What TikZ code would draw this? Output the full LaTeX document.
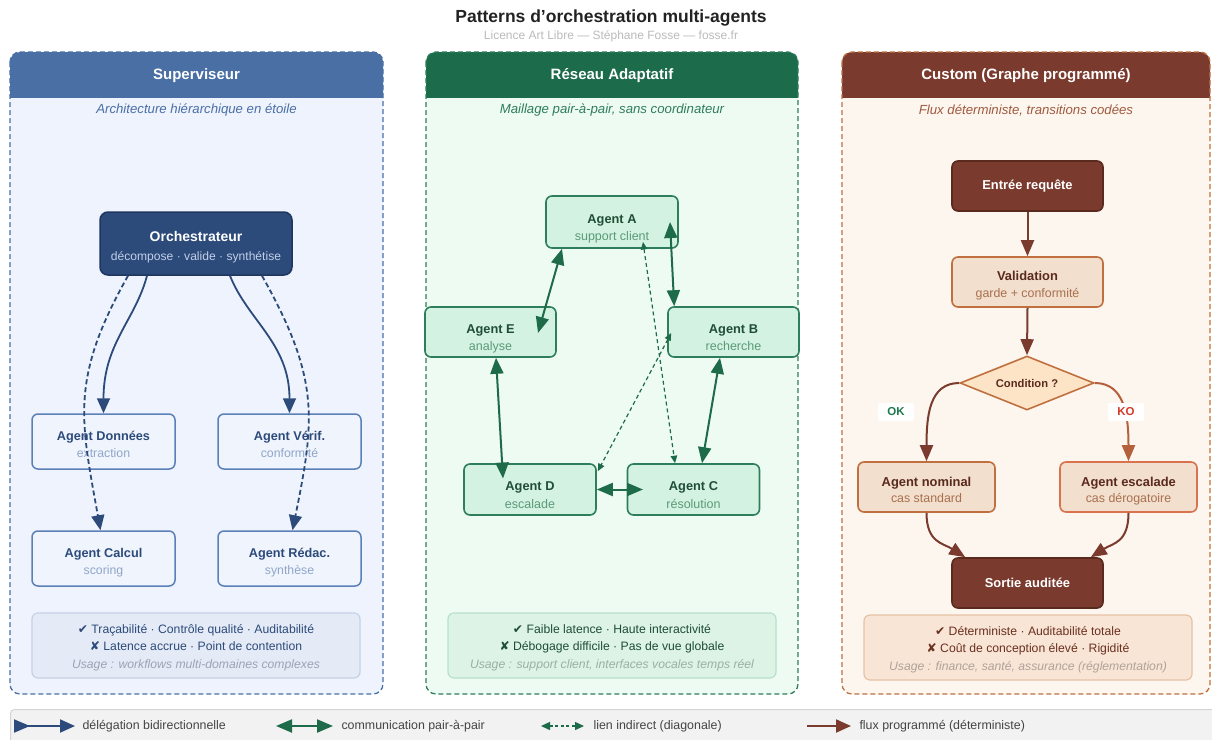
\documentclass[tikz,border=0pt]{standalone}
\usepackage{fontspec}
\setmainfont{Liberation Sans}
\newfontfamily\symf{DejaVu Sans}
\usetikzlibrary{arrows.meta,shapes.geometric,calc}
\newcommand\tstr[1]{\rule{0pt}{#1}}
\newcommand\bstr{\rule[-4pt]{0pt}{4pt}}
\definecolor{titlec}{HTML}{222222}
\definecolor{lic}{HTML}{BBBBBB}
% blue
\definecolor{bhead}{HTML}{4A6FA5}
\definecolor{bbg}{HTML}{EEF3FD}
\definecolor{navy}{HTML}{2C4A7A}
\definecolor{navyd}{HTML}{1F3760}
\definecolor{bborder}{HTML}{5B80B8}
\definecolor{bnodefill}{HTML}{F0F4FD}
\definecolor{bsub}{HTML}{8FA6C8}
\definecolor{bsubt}{HTML}{4A6FA5}
\definecolor{orchsub}{HTML}{C2D0E8}
\definecolor{bfoot}{HTML}{E5EBF6}
\definecolor{bfootb}{HTML}{C5D1E6}
\definecolor{busage}{HTML}{9AA3B5}
% green
\definecolor{ghead}{HTML}{1C6B4A}
\definecolor{gbg}{HTML}{EEFBF2}
\definecolor{gnodefill}{HTML}{D4F2E2}
\definecolor{gborder}{HTML}{2E7D5B}
\definecolor{gtitle}{HTML}{1F4D36}
\definecolor{gsub}{HTML}{5A9A78}
\definecolor{garrow}{HTML}{1E6B4A}
\definecolor{gsubt}{HTML}{2E7D5B}
\definecolor{gfoot}{HTML}{DCF3E6}
\definecolor{gfootb}{HTML}{B9E0CB}
\definecolor{gusage}{HTML}{9AB0A3}
% brown
\definecolor{chead}{HTML}{7A3A2E}
\definecolor{cbg}{HTML}{FDF6EF}
\definecolor{cdarkb}{HTML}{5A2A1E}
\definecolor{cnodefill}{HTML}{F2DFCD}
\definecolor{cborder}{HTML}{C0703F}
\definecolor{escb}{HTML}{D9734F}
\definecolor{cdiamf}{HTML}{FDE4C6}
\definecolor{ctitle}{HTML}{5A2A1E}
\definecolor{csub}{HTML}{A8704F}
\definecolor{csubt}{HTML}{A05A3E}
\definecolor{karrow}{HTML}{B5603C}
\definecolor{cfoot}{HTML}{F8E5D5}
\definecolor{cfootb}{HTML}{E5C2A5}
\definecolor{cusage}{HTML}{B0A29A}
\definecolor{cftext}{HTML}{6A3020}
\definecolor{okc}{HTML}{1E7A4F}
\definecolor{koc}{HTML}{D43A2A}
% legend
\definecolor{legbg}{HTML}{F2F2F2}
\definecolor{legb}{HTML}{D5D5D5}
\definecolor{legt}{HTML}{444444}
\begin{document}
\begin{tikzpicture}[x=1pt,y=-1pt,
  hdr/.style={font=\fontsize{15}{18}\selectfont\bfseries, text=white},
  psub/.style={font=\fontsize{13.2}{16}\selectfont\itshape},
  bnode/.style={draw=bborder, fill=bnodefill, line width=1.5, rounded corners=6,
     minimum width=143, minimum height=55, align=center, inner sep=0,
     font=\fontsize{12.3}{16.2}\selectfont},
  orchnode/.style={draw=navyd, fill=navy, line width=1.5, rounded corners=8,
     minimum width=192, minimum height=63, align=center, inner sep=0,
     font=\fontsize{12.1}{19.5}\selectfont},
  gnode/.style={draw=gborder, fill=gnodefill, line width=1.6, rounded corners=6,
     minimum width=132, minimum height=51, align=center, inner sep=0,
     font=\fontsize{12.5}{17.6}\selectfont},
  cnode/.style={draw=cborder, fill=cnodefill, line width=1.6, rounded corners=6,
     minimum width=151, minimum height=50, align=center, inner sep=0,
     font=\fontsize{12.4}{17.6}\selectfont},
  cdark/.style={draw=cdarkb, fill=chead, line width=1.6, rounded corners=6,
     minimum width=151, minimum height=50, align=center, inner sep=0,
     font=\fontsize{12.9}{15}\selectfont\bfseries, text=white},
  cdiam/.style={diamond, draw=cborder, fill=cdiamf, line width=1.6, aspect=2.48,
     minimum width=134, minimum height=54, inner sep=1pt,
     font=\fontsize{11.2}{13}\selectfont\bfseries, text=ctitle},
  foot/.style={rounded corners=6, line width=1.2, minimum width=328, minimum height=65,
     align=center, inner sep=0, font=\fontsize{12.2}{17.5}\selectfont},
  lab/.style={fill=white, rounded corners=2, minimum width=36, minimum height=18,
     inner sep=0, font=\fontsize{11.5}{13}\selectfont\bfseries},
  legtext/.style={anchor=west, text=legt, font=\fontsize{12.4}{14}\selectfont},
  barrow/.style={draw=navy, line width=1.8, -{Triangle[length=15pt,width=13pt]}},
  bdash/.style={barrow, dash pattern=on 5pt off 3pt},
  garr/.style={draw=garrow, line width=2, {Triangle[length=16pt,width=13pt]}-{Triangle[length=16pt,width=13pt]}},
  gdash/.style={draw=garrow, line width=1.2, dash pattern=on 4pt off 3pt, {Triangle[length=7.5pt,width=6.5pt]}-{Triangle[length=7.5pt,width=6.5pt]}},
  carrow/.style={draw=chead, line width=2, -{Triangle[length=16pt,width=13pt]}},
]
\useasboundingbox (0,0) rectangle (1212,739);
\fill[white] (0,0) rectangle (1212,739);

% title
\node[font=\fontsize{17.5}{20}\selectfont\bfseries, text=titlec] (title) at (611,18) {Patterns d'orchestration multi-agents};
\node[font=\fontsize{12}{14}\selectfont, text=lic] (licence) at (611,36) {Licence Art Libre — Stéphane Fosse — fosse.fr};

% ---------- panel backgrounds ----------
\fill[bbg, rounded corners=10] (10,52) rectangle (383,694);
\begin{scope}\clip (10,52) rectangle (383,97); \fill[bhead, rounded corners=10] (10,52) rectangle (383,130); \end{scope}
\draw[bhead, line width=1.3, dash pattern=on 5pt off 3pt, rounded corners=10] (10,52) rectangle (383,694);

\fill[gbg, rounded corners=10] (426,52) rectangle (798,694);
\begin{scope}\clip (426,52) rectangle (798,97); \fill[ghead, rounded corners=10] (426,52) rectangle (798,130); \end{scope}
\draw[gborder, line width=1.3, dash pattern=on 5pt off 3pt, rounded corners=10] (426,52) rectangle (798,694);

\fill[cbg, rounded corners=10] (842,52) rectangle (1210,694);
\begin{scope}\clip (842,52) rectangle (1210,97); \fill[chead, rounded corners=10] (842,52) rectangle (1210,130); \end{scope}
\draw[cborder, line width=1.3, dash pattern=on 5pt off 3pt, rounded corners=10] (842,52) rectangle (1210,694);

\node[hdr] (h1) at (196.5,76) {Superviseur};
\node[hdr] (h2) at (612,76) {Réseau Adaptatif};
\node[hdr] (h3) at (1026,76) {Custom (Graphe programmé)};
\node[psub, text=bsubt] (s1) at (196.5,110) {Architecture hiérarchique en étoile};
\node[psub, text=gsubt] (s2) at (612,110) {Maillage pair-à-pair, sans coordinateur};
\node[psub, text=csubt] (s3) at (1026,110) {Flux déterministe, transitions codées};

% ---------- panel 1 ----------
\node[orchnode] (orch) at (196,243.5) {{\fontsize{14}{19.5}\selectfont\bfseries\color{white}\tstr{18.5pt}Orchestrateur}\\{\color{orchsub}décompose · valide · synthétise\bstr}};
\node[bnode] (don) at (103.5,441.5) {{\fontsize{12.7}{16.2}\selectfont\bfseries\color{navy}\tstr{19pt}Agent Données}\\{\color{bsub}extraction\bstr}};
\node[bnode] (ver) at (289.5,441.5) {{\fontsize{12.7}{16.2}\selectfont\bfseries\color{navy}\tstr{19pt}Agent Vérif.}\\{\color{bsub}conformité\bstr}};
\node[bnode] (cal) at (103.5,558.5) {{\fontsize{12.7}{16.2}\selectfont\bfseries\color{navy}\tstr{19pt}Agent Calcul}\\{\color{bsub}scoring\bstr}};
\node[bnode] (red) at (289.5,558.5) {{\fontsize{12.7}{16.2}\selectfont\bfseries\color{navy}\tstr{19pt}Agent Rédac.}\\{\color{bsub}synthèse\bstr}};

\draw[barrow] ($(orch.south)+(-49,0)$) .. controls +(-12,45) and +(0,-70) .. (don.north);
\draw[barrow] ($(orch.south)+(34,0)$) .. controls +(18,45) and +(0,-70) .. (ver.north);
\draw[bdash] ($(orch.south)+(-68,0)$) .. controls +(-58,103) and +(-20,-111) .. ($(cal.north)+(-3,0)$);
\draw[bdash] ($(orch.south)+(66,0)$) .. controls +(58,103) and +(22.5,-111) .. ($(red.north)+(3,0)$);

\node[foot, draw=bfootb, fill=bfoot, text=navy] (f1) at (196,645.5) {\tstr{14.5pt}{\symf ✔} Traçabilité · Contrôle qualité · Auditabilité\\{\symf ✘} Latence accrue · Point de contention\\{\itshape\color{busage}Usage : workflows multi-domaines complexes\bstr}};

% ---------- panel 2 ----------
\node[gnode, minimum height=52] (A) at (612,222) {{\fontsize{12.8}{17.6}\selectfont\bfseries\color{gtitle}\tstr{24pt}Agent A}\\{\color{gsub}support client\bstr}};
\node[gnode, minimum width=131, minimum height=50] (E) at (490.5,332) {{\fontsize{12.8}{17.6}\selectfont\bfseries\color{gtitle}\tstr{24pt}Agent E}\\{\color{gsub}analyse\bstr}};
\node[gnode, minimum width=131, minimum height=50] (B) at (733.5,332) {{\fontsize{12.8}{17.6}\selectfont\bfseries\color{gtitle}\tstr{24pt}Agent B}\\{\color{gsub}recherche\bstr}};
\node[gnode] (D) at (530,489.5) {{\fontsize{12.8}{17.6}\selectfont\bfseries\color{gtitle}\tstr{24pt}Agent D}\\{\color{gsub}escalade\bstr}};
\node[gnode] (C) at (693.5,489.5) {{\fontsize{12.8}{17.6}\selectfont\bfseries\color{gtitle}\tstr{24pt}Agent C}\\{\color{gsub}résolution\bstr}};

\draw[gdash] ($(A.center)+(31,20)$) -- ($(C.north)+(-18.5,0)$);
\draw[gdash] ($(B.west)+(4,1)$) -- ($(D.north east)+(1,8)$);
\draw[garr] ($(A.south)+(-50,0)$) -- ($(E.center)+(47.5,1)$);
\draw[garr] ($(A.center)+(58,0)$) -- ($(B.north west)+(7,0)$);
\draw[garr] ($(E.south)+(5.5,0)$) -- ($(D.center)+(-27,-11)$);
\draw[garr] ($(B.south)+(-13.5,0)$) -- ($(C.north)+(8.5,0)$);
\draw[garr] (D.east) -- ($(C.center)+(-50.5,0)$);

\node[foot, draw=gfootb, fill=gfoot, text=gtitle] (f2) at (612,645.5) {\tstr{14.5pt}{\symf ✔} Faible latence · Haute interactivité\\{\symf ✘} Débogage difficile · Pas de vue globale\\{\itshape\color{gusage}Usage : support client, interfaces vocales temps réel\bstr}};

% ---------- panel 3 ----------
\node[cdark] (entree) at (1027.5,186) {Entrée requête};
\node[cnode] (valid) at (1027.5,282) {{\fontsize{12.9}{17.6}\selectfont\bfseries\color{ctitle}\tstr{17.6pt}Validation}\\{\color{csub}garde + conformité\bstr}};
\node[cdiam] (cond) at (1027,383) {Condition ?};
\node[cnode, minimum width=137, font=\fontsize{12.4}{16.6}\selectfont] (nom) at (926.5,487) {{\fontsize{12.9}{16.6}\selectfont\bfseries\color{ctitle}\tstr{18.6pt}Agent nominal}\\{\color{csub}cas standard\bstr}};
\node[cnode, draw=escb, minimum width=137, font=\fontsize{12.4}{16.6}\selectfont] (esc) at (1128.5,487) {{\fontsize{12.9}{16.6}\selectfont\bfseries\color{ctitle}\tstr{18.6pt}Agent escalade}\\{\color{csub}cas dérogatoire\bstr}};
\node[cdark] (sortie) at (1027.5,583) {Sortie auditée};

\draw[carrow] (entree.south) -- (valid.north);
\draw[carrow] (valid.south) -- (cond.north);
\draw[carrow] (cond.west) .. controls +(-30,0) and +(0,-45) .. (nom.north);
\draw[carrow, draw=karrow] (cond.east) .. controls +(30,0) and +(0,-45) .. (esc.north);
\draw[carrow] (nom.south) .. controls +(0,30) and +(-22,-14) .. ($(sortie.north west)+(14,0)$);
\draw[carrow] (esc.south) .. controls +(0,30) and +(22,-14) .. ($(sortie.north east)+(-13,0)$);

\node[lab, text=okc] (ok) at (896,412) {OK};
\node[lab, text=koc] (ko) at (1126,412) {KO};

\node[foot, draw=cfootb, fill=cfoot, text=cftext] (f3) at (1028,647.5) {\tstr{14.5pt}{\symf ✔} Déterministe · Auditabilité totale\\{\symf ✘} Coût de conception élevé · Rigidité\\{\itshape\color{cusage}Usage : finance, santé, assurance (réglementation)\bstr}};

% ---------- legend ----------
\node[draw=legb, fill=legbg, rounded corners=4, line width=1, minimum width=1215, minimum height=45, anchor=north west, inner sep=0] (legend) at (10,709) {};
\coordinate (la1) at (14,726); \coordinate (lb1) at (75,726);
\draw[navy, line width=2, {Triangle[reversed,length=16pt,width=13pt]}-{Triangle[length=15pt,width=13pt]}] (la1) -- (lb1);
\node[legtext] (lt1) at (79,726) {délégation bidirectionnelle};
\coordinate (la2) at (276,726); \coordinate (lb2) at (333,726);
\draw[garrow, line width=2.2, {Triangle[length=16pt,width=13pt]}-{Triangle[length=16pt,width=13pt]}] (la2) -- (lb2);
\node[legtext] (lt2) at (338,726) {communication pair-à-pair};
\coordinate (la3) at (541,726); \coordinate (lb3) at (584,726);
\draw[garrow, line width=1.4, dash pattern=on 3pt off 2.5pt, {Triangle[length=9pt,width=8pt]}-{Triangle[length=9pt,width=8pt]}] (la3) -- (lb3);
\node[legtext] (lt3) at (590,726) {lien indirect (diagonale)};
\coordinate (la4) at (807,726); \coordinate (lb4) at (851,726);
\draw[chead, line width=2, -{Triangle[length=15pt,width=13pt]}] (la4) -- (lb4);
\node[legtext] (lt4) at (856,726) {flux programmé (déterministe)};
\end{tikzpicture}
\end{document}
